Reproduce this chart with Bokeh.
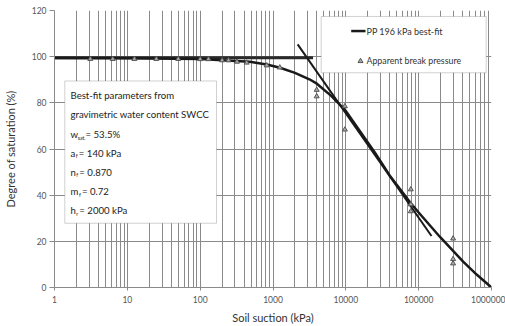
from bokeh.plotting import figure
from bokeh.models import FixedTicker, BoxAnnotation, Label, PrintfTickFormatter, Range1d
from bokeh.embed import file_html
from bokeh.resources import INLINE

# ---------------- data ----------------
curve_suction = [1, 10, 100, 200, 480, 820, 1250, 2000, 3160, 4000, 6300, 10000,
                 15800, 25000, 40000, 75700, 100000, 195000, 408000, 631000, 1000000]
curve_sat = [99.4, 99.3, 99.0, 98.5, 97.8, 96.6, 95.2, 93.0, 90.2, 88.3, 83.0, 76.5,
             67.5, 58.5, 48.5, 37.0, 32.5, 22.0, 11.2, 5.5, 0.0]

flat_suction = [1, 3550]
flat_sat = [99.5, 99.5]

tangent_suction = [2180, 150000]
tangent_sat = [105.3, 22.3]

break_suction = [3.1, 6.3, 12.5, 25, 50, 100, 130, 200, 245, 320, 435, 820, 1240,
                 3980, 3980, 9700, 9700, 78000, 78000, 78000, 297000, 297000, 297000]
break_sat = [99.0, 99.0, 99.0, 99.0, 99.0, 98.9, 98.9, 98.4, 98.4, 97.8, 97.4, 96.2, 95.3,
             85.6, 82.8, 78.5, 68.4, 42.5, 36.0, 33.0, 21.2, 12.3, 10.4]

x_major = [1, 10, 100, 1000, 10000, 100000, 1000000]
y_major = [0, 20, 40, 60, 80, 100, 120]

param_lines = ["Best-fit parameters from", "gravimetric water content SWCC"]
param_syms = [("w", "sat.", "= 53.5%"), ("a", "f", "= 140 kPa"), ("n", "f", "= 0.870"),
              ("m", "f", "= 0.72"), ("h", "r", "= 2000 kPa")]
legend_labels = ["PP 196 kPa best-fit", "Apparent break pressure"]

# ---------------- layout ----------------
W, H = 505, 326
L, R, T, B = 54, 14, 10, 37
FW, FH = W - L - R, H - T - B
DEC = FW / 6.0
UY = FH / 120.0

def fx(px):
    return 10 ** ((px - L) / DEC)

def fy(py):
    return (T + FH - py) / UY

FONT = "Lato"
GRID = "#8a8a8a"

p = figure(width=W, height=H, x_axis_type="log", output_backend="svg", toolbar_location=None,
           x_range=Range1d(1, 1000000), y_range=Range1d(0, 120),
           min_border_left=L, min_border_right=R, min_border_top=T, min_border_bottom=B)
p.outline_line_color = None
p.background_fill_color = "white"

minor = [m * 10 ** k for k in range(0, 6) for m in range(2, 10)]
p.xaxis.ticker = FixedTicker(ticks=x_major, minor_ticks=minor)
p.yaxis.ticker = FixedTicker(ticks=y_major)
p.xaxis.formatter = PrintfTickFormatter(format="%d")

p.xgrid.grid_line_color = GRID
p.xgrid.minor_grid_line_color = GRID
p.ygrid.grid_line_color = GRID
for ax in (p.xaxis, p.yaxis):
    ax.axis_line_color = GRID
    ax.major_tick_line_color = GRID
    ax.minor_tick_line_color = None
    ax.major_tick_in = 0
    ax.major_tick_out = 5
    ax.major_label_text_font = FONT
    ax.major_label_text_font_size = "8.5px"
    ax.major_label_text_color = "#555555"
    ax.axis_label_text_font = FONT
    ax.axis_label_text_font_style = "normal"
    ax.axis_label_text_font_size = "11px"
    ax.axis_label_text_color = "#333333"
p.xaxis.major_tick_out = 3
p.xaxis.major_label_standoff = 4
p.xaxis.axis_label_standoff = 5
p.yaxis.major_label_standoff = 3
p.yaxis.axis_label_standoff = 12
p.xaxis.axis_label = "Soil suction (kPa)"
p.yaxis.axis_label = "Degree of saturation (%)"

# ---------------- marks ----------------
p.line(flat_suction, flat_sat, line_color="#2a2a2a", line_width=3)
p.line(curve_suction, curve_sat, line_color="#1a1a1a", line_width=2.5)
p.line(tangent_suction, tangent_sat, line_color="#1a1a1a", line_width=2)
p.scatter(break_suction, break_sat, marker="triangle", size=5, line_color="#555555",
          fill_color="#aaaaaa", line_width=1)

# ---------------- parameter box ----------------
p.add_layout(BoxAnnotation(left=fx(64.3), right=fx(216), top=fy(81), bottom=fy(224.3),
                           fill_color="white", fill_alpha=1, line_color="#666666", line_width=1))

def lab(px, py, text, size="9.6px", color="#222222"):
    p.add_layout(Label(x=fx(px), y=fy(py), text=text, text_font=FONT, text_font_size=size,
                       text_color=color, text_baseline="middle", text_align="left"))

rows = [96, 114.7, 135, 154, 172.7, 192.7, 211.7]
lab(70, rows[0], param_lines[0])
lab(70, rows[1], param_lines[1])
sub_x = [77.2, 75.3, 75.8, 78.4, 75.8]
rest_x = [85.0, 78.3, 78.8, 81.4, 78.8]
for i, (s, sb, rest) in enumerate(param_syms):
    r = rows[2 + i]
    lab(70, r, s)
    lab(sub_x[i], r + 3, sb, size="5.2px")
    lab(rest_x[i], r, rest)

# ---------------- legend box ----------------
p.add_layout(BoxAnnotation(left=fx(320.7), right=fx(485.7), top=fy(16), bottom=fy(72.7),
                           fill_color="white", fill_alpha=1, line_color="#666666", line_width=1))
p.line([fx(350.7), fx(365)], [fy(30.7), fy(30.7)], line_color="#1a1a1a", line_width=2.5, level="overlay")
p.scatter([fx(360)], [fy(61)], marker="triangle", size=5, line_color="#555555",
          fill_color="#aaaaaa", line_width=1, level="overlay")
lab(366, 30.7, legend_labels[0], size="9px", color="#333333")
lab(366, 60.5, legend_labels[1], size="8.8px", color="#333333")

open("out.html", "w").write(file_html(p, INLINE))
